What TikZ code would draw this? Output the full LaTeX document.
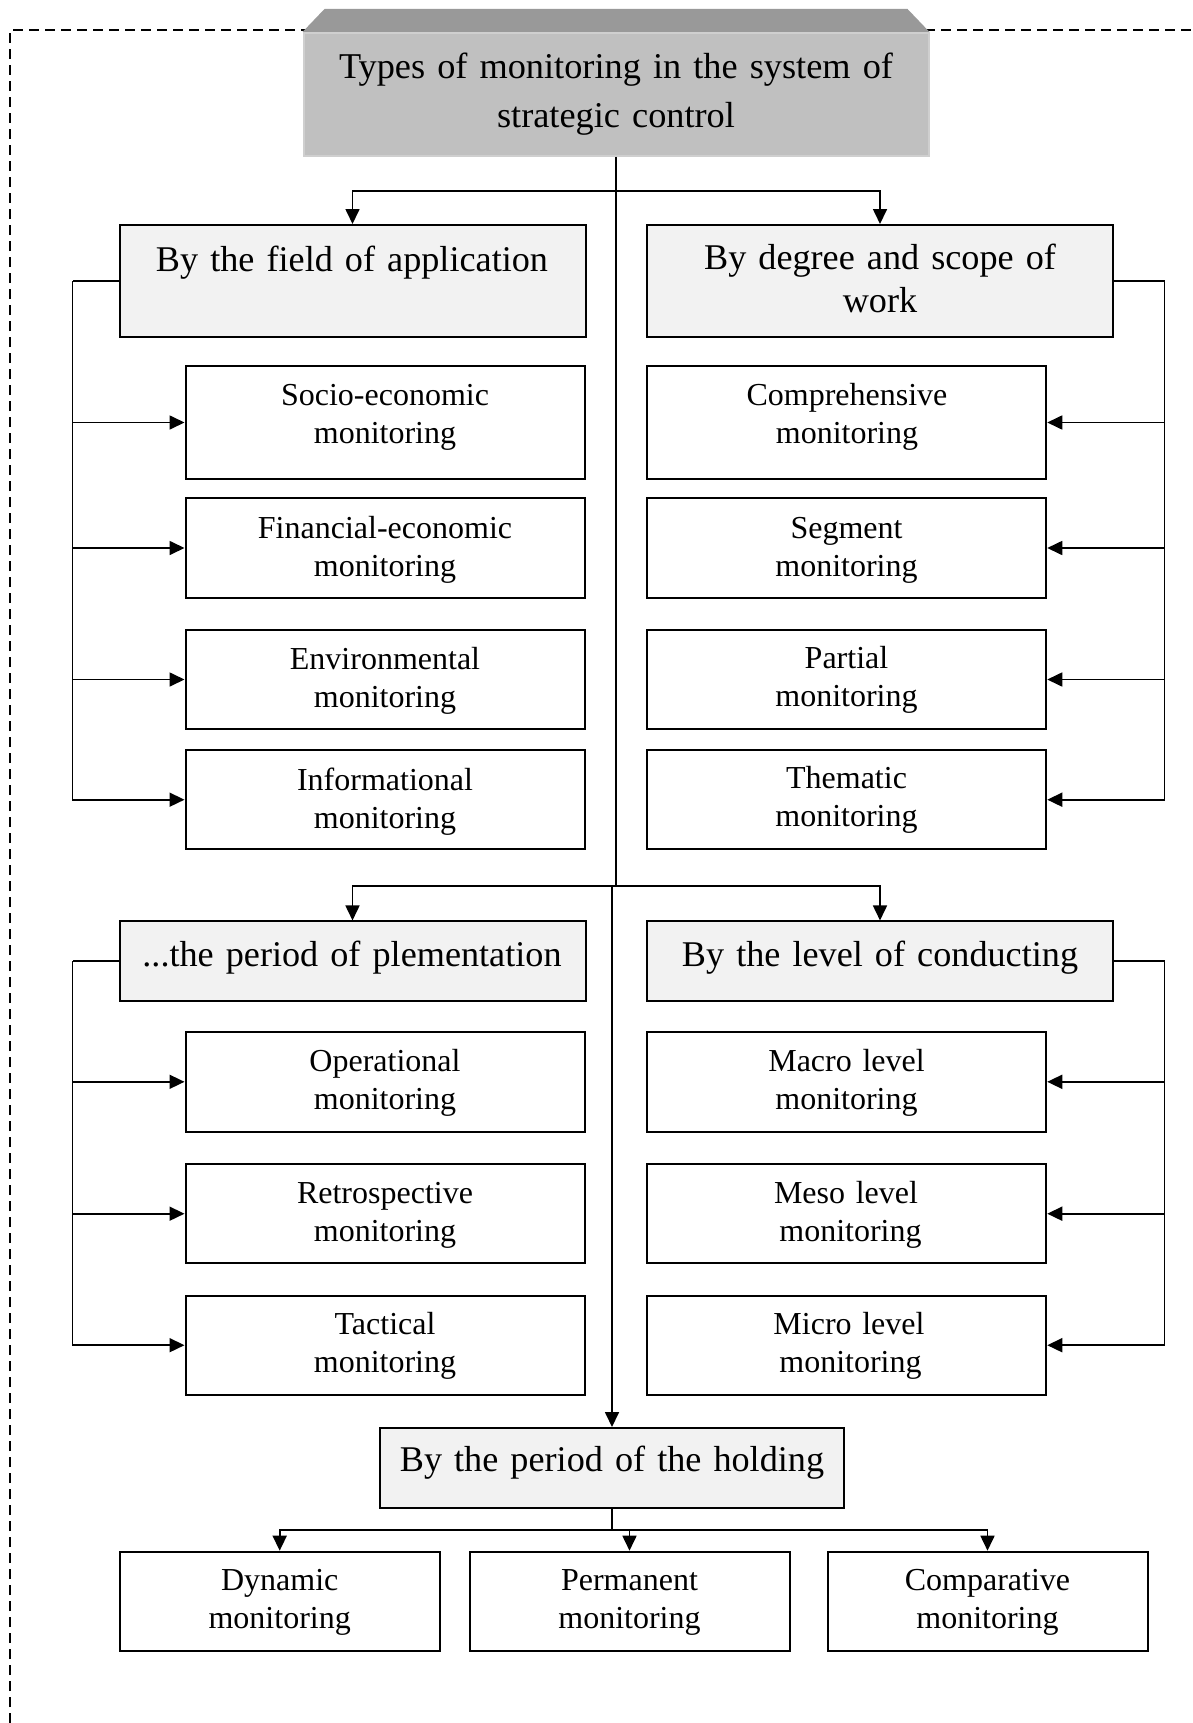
\documentclass[tikz,border=0pt]{standalone}
\usepackage{fontspec}
\setmainfont{Liberation Serif}
\usetikzlibrary{arrows.meta}

\definecolor{catfill}{HTML}{F2F2F2}
\definecolor{titlefill}{HTML}{C0C0C0}
\definecolor{titlerim}{HTML}{CFCFCF}
\definecolor{bevelfill}{HTML}{999999}

\begin{document}
\begin{tikzpicture}[x=1pt,y=-1pt,
  catbox/.style={draw=black, line width=2pt, fill=catfill, inner sep=0pt, minimum width=466pt},
  subbox/.style={draw=black, line width=2pt, fill=white, inner sep=0pt, minimum width=399.5pt},
  leafbox/.style={draw=black, line width=2pt, fill=white, inner sep=0pt, minimum width=320pt, minimum height=99pt},
  holdbox/.style={draw=black, line width=2pt, fill=catfill, inner sep=0pt, minimum width=464pt, minimum height=80pt},
  titletext/.style={font=\fontsize{36.3}{49}\selectfont, text width=620pt, align=center, anchor=base, inner sep=0pt},
  bigtext/.style={font=\fontsize{36.2}{43}\selectfont, text width=460pt, align=center, anchor=base, inner sep=0pt},
  smalltext/.style={font=\fontsize{32}{38}\selectfont, text width=390pt, align=center, anchor=base, inner sep=0pt},
  link/.style={line width=1.7pt},
  linkarrow/.style={line width=1.7pt, -{Triangle[length=15pt,width=14pt]}},
  frameline/.style={line width=1.5pt, dash pattern=on 10pt off 6pt}
]

% page
\fill[white] (0,0) rectangle (1192,1723);
\useasboundingbox (0,0) rectangle (1192,1723);

% dashed frame (top and left sides)
\draw[frameline] (10,1723) -- (10,30) -- (1192,30);

% title block with bevelled top
\node[fill=titlefill, draw=titlerim, line width=2pt, minimum width=625pt, minimum height=123pt, inner sep=0pt] (title) at (616,94.5) {};
\fill[bevelfill] (title.north west) -- ++(22,-23) -- ([xshift=-22pt,yshift=23pt]title.north east) -- (title.north east) -- cycle;
\node[titletext] (titlet) at (616,79) {Types of monitoring in the system of\\strategic control};

% category boxes
\node[catbox, minimum height=112pt] (catL1) at (352.5,281) {};
\node[catbox, minimum height=112pt] (catR1) at (880,281) {};
\node[catbox, minimum height=79.5pt] (catL2) at (352.5,961.2) {};
\node[catbox, minimum height=79.5pt] (catR2) at (880,961.2) {};
\node[holdbox] (hold) at (612,1468) {};

% first group of sub-boxes
\node[subbox, minimum height=113pt] (sL1) at (385.25,422.5) {};
\node[subbox, minimum height=99.4pt] (sL2) at (385.25,548) {};
\node[subbox, minimum height=99pt] (sL3) at (385.25,679.5) {};
\node[subbox, minimum height=99.3pt] (sL4) at (385.25,799.7) {};
\node[subbox, minimum height=113pt] (sR1) at (846.5,422.5) {};
\node[subbox, minimum height=99.4pt] (sR2) at (846.5,548) {};
\node[subbox, minimum height=99pt] (sR3) at (846.5,679.5) {};
\node[subbox, minimum height=99.3pt] (sR4) at (846.5,799.7) {};

% second group of sub-boxes
\node[subbox, minimum height=100.6pt] (pL1) at (385.25,1081.8) {};
\node[subbox, minimum height=99.2pt] (pL2) at (385.25,1213.7) {};
\node[subbox, minimum height=99.2pt] (pL3) at (385.25,1345.2) {};
\node[subbox, minimum height=100.6pt] (pR1) at (846.5,1081.8) {};
\node[subbox, minimum height=99.2pt] (pR2) at (846.5,1213.7) {};
\node[subbox, minimum height=99.2pt] (pR3) at (846.5,1345.2) {};

% bottom row
\node[leafbox] (leaf1) at (279.7,1601.2) {};
\node[leafbox] (leaf2) at (629.5,1601.2) {};
\node[leafbox] (leaf3) at (987.5,1601.2) {};

% junction points
\coordinate (j1) at (616,191);
\coordinate (j2) at (616,885.9);
\coordinate (j3) at (612,885.9);
\coordinate (j4) at (612,1530);
\coordinate (bL1) at (72.5,281);
\coordinate (bR1) at (1164.5,281);
\coordinate (bL2) at (72.5,961.2);
\coordinate (bR2) at (1164.5,961.2);

% spine and branches
\draw[link] (title.south) -- (j2);
\draw[linkarrow] (j1) -| (catL1.north);
\draw[linkarrow] (j1) -| (catR1.north);
\draw[linkarrow] (j2) -| (catL2.north);
\draw[linkarrow] (j2) -| (catR2.north);
\draw[linkarrow] (j3) -- (hold.north);

% brackets of the first group
\draw[link] (catL1.west) -- (bL1);
\foreach \n in {sL1,sL2,sL3,sL4} \draw[linkarrow] (bL1) |- (\n.west);
\draw[link] (catR1.east) -- (bR1);
\foreach \n in {sR1,sR2,sR3,sR4} \draw[linkarrow] (bR1) |- (\n.east);

% brackets of the second group
\draw[link] (catL2.west) -- (bL2);
\foreach \n in {pL1,pL2,pL3} \draw[linkarrow] (bL2) |- (\n.west);
\draw[link] (catR2.east) -- (bR2);
\foreach \n in {pR1,pR2,pR3} \draw[linkarrow] (bR2) |- (\n.east);

% bottom fan-out
\draw[link] (hold.south) -- (j4);
\draw[linkarrow] (j4) -| (leaf1.north);
\draw[linkarrow] (j4) -| (leaf2.north);
\draw[linkarrow] (j4) -| (leaf3.north);

% labels
\node[bigtext] (catL1t) at (352,271) {By the field of application};
\node[bigtext] (catR1t) at (880,269) {By degree and scope of\\work};
\node[bigtext] (catL2t) at (352,966) {...the period of plementation};
\node[bigtext] (catR2t) at (880,966) {By the level of conducting};
\node[bigtext] (holdt) at (612,1471.7) {By the period of the holding};

\node[smalltext] (sL1t) at (385,405) {Socio-economic\\monitoring};
\node[smalltext] (sL2t) at (385,538.3) {Financial-economic\\monitoring};
\node[smalltext] (sL3t) at (385,669.3) {Environmental\\monitoring};
\node[smalltext] (sL4t) at (385,790) {Informational\\monitoring};
\node[smalltext] (sR1t) at (847,405) {Comprehensive\\monitoring};
\node[smalltext] (sR2t) at (846.5,538.3) {Segment\\monitoring};
\node[smalltext] (sR3t) at (846.5,668.3) {Partial\\monitoring};
\node[smalltext] (sR4t) at (846.5,788.3) {Thematic\\monitoring};

\node[smalltext] (pL1t) at (385,1071.1) {Operational\\monitoring};
\node[smalltext] (pL2t) at (385,1203.7) {Retrospective\\monitoring};
\node[smalltext] (pL3t) at (385,1334.5) {Tactical\\monitoring};
\node[smalltext] (pR1t) at (846.5,1071.8) {Macro level\\monitoring};
\node[smalltext] (pR2t) at (846,1203) {Meso level\\\hspace*{9pt}monitoring};
\node[smalltext] (pR3t) at (849,1334.5) {Micro level\\\hspace*{3pt}monitoring};

\node[smalltext] (leaf1t) at (279.7,1590) {Dynamic\\monitoring};
\node[smalltext] (leaf2t) at (629.5,1590) {Permanent\\monitoring};
\node[smalltext] (leaf3t) at (987.5,1590) {Comparative\\monitoring};
\end{tikzpicture}
\end{document}
